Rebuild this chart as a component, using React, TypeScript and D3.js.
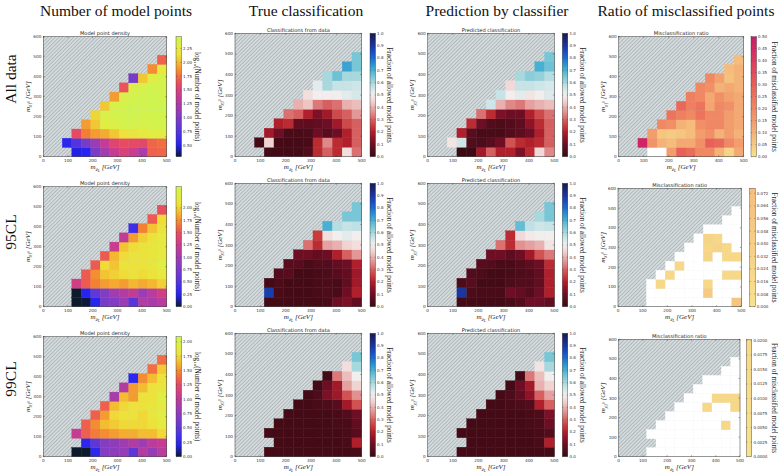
import React from "react";
import * as d3 from "d3";

const N = null;
type Grid = (number | null)[][];

// ---------------- data (rows from lowest m_chi bin upward, 13 x-bins each) ----------------
const densityAll: Grid = [
  [N, N, N, 0.5, 0.52, 0.97, 1.2, 1.4, 1.5, 1.42, 1.25, 1.7, 1.72],
  [N, N, 0.55, 0.75, 0.95, 1.15, 1.38, 1.55, 1.62, 1.6, 1.58, 1.72, 1.75],
  [N, N, N, 1.6, 1.8, 1.9, 1.95, 2.05, 2.15, 2.2, 2.25, 2.3, 2.3],
  [N, N, N, N, 1.9, 2.05, 2.3, 2.35, 2.4, 2.4, 2.38, 2.4, 2.42],
  [N, N, N, N, N, 2.1, 2.35, 2.4, 2.42, 2.44, 2.4, 2.42, 2.4],
  [N, N, N, N, N, N, 2.05, 2.38, 2.4, 2.44, 2.42, 2.44, 2.45],
  [N, N, N, N, N, N, N, 1.9, 2.35, 2.4, 2.42, 2.44, 2.4],
  [N, N, N, N, N, N, N, N, 1.65, 2.35, 2.38, 2.42, 2.4],
  [N, N, N, N, N, N, N, N, N, 0.95, 2.05, 2.3, 2.38],
  [N, N, N, N, N, N, N, N, N, N, N, 1.85, 2.25],
  [N, N, N, N, N, N, N, N, N, N, N, N, 1.7],
];
const density95: Grid = [
  [N, N, N, 0.0, 0.02, 0.25, 0.75, 0.8, 0.95, 0.55, 1.1, 1.05, 1.15],
  [N, N, N, 0.0, 0.25, 0.6, 0.8, 1.0, 1.1, 1.2, 0.95, 1.15, 1.3],
  [N, N, N, 1.3, 1.55, 1.7, 1.8, 1.85, 1.8, 1.9, 1.85, 1.9, 2.0],
  [N, N, N, N, 1.55, 1.75, 1.95, 2.0, 2.05, 2.1, 2.05, 2.1, 2.2],
  [N, N, N, N, N, 1.55, 2.05, 1.95, 2.1, 2.1, 2.1, 2.15, 2.25],
  [N, N, N, N, N, N, 1.55, 1.9, 2.05, 2.1, 2.1, 2.15, 2.2],
  [N, N, N, N, N, N, N, 1.25, 1.95, 2.05, 2.1, 2.15, 2.2],
  [N, N, N, N, N, N, N, N, 1.2, 1.8, 2.0, 2.1, 2.2],
  [N, N, N, N, N, N, N, N, N, 0.4, 1.7, 1.95, 2.1],
  [N, N, N, N, N, N, N, N, N, N, N, 1.55, 2.05],
  [N, N, N, N, N, N, N, N, N, N, N, N, 1.5],
];
const density99: Grid = [
  [N, N, N, 0.0, 0.0, 0.25, 0.7, 0.75, 0.8, 0.5, 0.95, 0.8, 1.0],
  [N, N, N, N, 0.25, 0.5, 0.7, 0.75, 0.85, 0.95, 0.85, 1.0, 1.05],
  [N, N, N, 1.05, 1.35, 1.45, 1.5, 1.55, 1.6, 1.6, 1.65, 1.65, 1.75],
  [N, N, N, N, 1.35, 1.5, 1.65, 1.7, 1.75, 1.75, 1.75, 1.8, 1.9],
  [N, N, N, N, N, 1.35, 1.55, 1.75, 1.8, 1.8, 1.75, 1.85, 1.95],
  [N, N, N, N, N, N, 1.35, 1.65, 1.75, 1.8, 1.8, 1.85, 1.9],
  [N, N, N, N, N, N, N, 0.9, 1.65, 1.55, 1.8, 1.8, 1.95],
  [N, N, N, N, N, N, N, N, 0.95, 1.55, 1.65, 1.8, 1.85],
  [N, N, N, N, N, N, N, N, N, 0.25, 1.5, 1.65, 1.8],
  [N, N, N, N, N, N, N, N, N, N, N, 1.4, 1.7],
  [N, N, N, N, N, N, N, N, N, N, N, N, 1.4],
];

const trueAll: Grid = [
  [N, N, N, 0.02, 0.02, 0.02, 0.02, 0.05, 0.22, 0.3, 0.22, 0.47, 0.32],
  [N, N, 0.02, 0.45, 0.02, 0.02, 0.02, 0.03, 0.22, 0.35, 0.22, 0.2, 0.3],
  [N, N, N, 0.18, 0.1, 0.03, 0.03, 0.04, 0.1, 0.06, 0.1, 0.2, 0.3],
  [N, N, N, N, 0.2, 0.22, 0.08, 0.07, 0.08, 0.1, 0.18, 0.27, 0.3],
  [N, N, N, N, N, 0.32, 0.3, 0.2, 0.12, 0.18, 0.27, 0.3, 0.37],
  [N, N, N, N, N, N, 0.4, 0.43, 0.33, 0.3, 0.32, 0.4, 0.42],
  [N, N, N, N, N, N, N, 0.47, 0.5, 0.5, 0.5, 0.52, 0.54],
  [N, N, N, N, N, N, N, N, 0.52, 0.6, 0.56, 0.56, 0.55],
  [N, N, N, N, N, N, N, N, N, 0.6, 0.66, 0.6, 0.6],
  [N, N, N, N, N, N, N, N, N, N, N, 0.72, 0.65],
  [N, N, N, N, N, N, N, N, N, N, N, N, 0.65],
];
const predAll: Grid = [
  [N, N, N, 0.0, 0.0, 0.18, 0.3, 0.2, 0.2, 0.12, 0.22, 0.46, 0.35],
  [N, N, 0.48, 0.55, 0.05, 0.04, 0.06, 0.1, 0.28, 0.22, 0.2, 0.22, 0.3],
  [N, N, N, 0.2, 0.06, 0.03, 0.03, 0.03, 0.05, 0.07, 0.1, 0.2, 0.3],
  [N, N, N, N, 0.22, 0.1, 0.05, 0.04, 0.05, 0.07, 0.15, 0.22, 0.3],
  [N, N, N, N, N, 0.32, 0.22, 0.12, 0.1, 0.1, 0.2, 0.27, 0.32],
  [N, N, N, N, N, N, 0.55, 0.4, 0.35, 0.33, 0.38, 0.4, 0.42],
  [N, N, N, N, N, N, N, 0.56, 0.5, 0.52, 0.48, 0.5, 0.53],
  [N, N, N, N, N, N, N, N, 0.46, 0.56, 0.56, 0.55, 0.54],
  [N, N, N, N, N, N, N, N, N, 0.6, 0.63, 0.62, 0.58],
  [N, N, N, N, N, N, N, N, N, N, N, 0.7, 0.66],
  [N, N, N, N, N, N, N, N, N, N, N, N, 0.65],
];
const true95: Grid = [
  [N, N, N, 0.02, 0.02, 0.02, 0.02, 0.02, 0.02, 0.03, 0.1, 0.12, 0.08],
  [N, N, N, 0.88, 0.03, 0.02, 0.02, 0.02, 0.03, 0.04, 0.03, 0.1, 0.2],
  [N, N, N, 0.02, 0.04, 0.02, 0.02, 0.02, 0.03, 0.04, 0.03, 0.08, 0.18],
  [N, N, N, N, 0.05, 0.06, 0.02, 0.02, 0.03, 0.04, 0.06, 0.08, 0.17],
  [N, N, N, N, N, 0.06, 0.06, 0.03, 0.05, 0.05, 0.08, 0.1, 0.2],
  [N, N, N, N, N, N, 0.1, 0.1, 0.08, 0.1, 0.2, 0.3, 0.37],
  [N, N, N, N, N, N, N, 0.32, 0.22, 0.38, 0.4, 0.45, 0.47],
  [N, N, N, N, N, N, N, N, 0.25, 0.47, 0.5, 0.52, 0.5],
  [N, N, N, N, N, N, N, N, N, 0.7, 0.58, 0.56, 0.57],
  [N, N, N, N, N, N, N, N, N, N, N, 0.65, 0.65],
  [N, N, N, N, N, N, N, N, N, N, N, N, 0.65],
];
const pred95: Grid = [
  [N, N, N, 0.02, 0.02, 0.02, 0.02, 0.02, 0.03, 0.05, 0.1, 0.1, 0.08],
  [N, N, N, 0.9, 0.04, 0.03, 0.03, 0.03, 0.1, 0.08, 0.05, 0.1, 0.2],
  [N, N, N, 0.04, 0.06, 0.02, 0.02, 0.02, 0.04, 0.05, 0.05, 0.08, 0.2],
  [N, N, N, N, 0.05, 0.04, 0.02, 0.02, 0.03, 0.04, 0.05, 0.08, 0.2],
  [N, N, N, N, N, 0.06, 0.05, 0.03, 0.03, 0.05, 0.07, 0.1, 0.22],
  [N, N, N, N, N, N, 0.1, 0.1, 0.07, 0.1, 0.18, 0.28, 0.33],
  [N, N, N, N, N, N, N, 0.32, 0.22, 0.36, 0.38, 0.4, 0.48],
  [N, N, N, N, N, N, N, N, 0.22, 0.46, 0.49, 0.5, 0.5],
  [N, N, N, N, N, N, N, N, N, 0.67, 0.57, 0.55, 0.56],
  [N, N, N, N, N, N, N, N, N, N, N, 0.6, 0.65],
  [N, N, N, N, N, N, N, N, N, N, N, N, 0.65],
];
const true99: Grid = [
  [N, N, N, 0.02, 0.02, 0.02, 0.02, 0.02, 0.02, 0.02, 0.02, 0.02, 0.03],
  [N, N, N, N, 0.02, 0.02, 0.02, 0.02, 0.02, 0.02, 0.02, 0.03, 0.2],
  [N, N, N, 0.02, 0.02, 0.02, 0.02, 0.02, 0.02, 0.02, 0.02, 0.03, 0.06],
  [N, N, N, N, 0.02, 0.02, 0.02, 0.02, 0.02, 0.02, 0.03, 0.03, 0.08],
  [N, N, N, N, N, 0.02, 0.02, 0.02, 0.02, 0.02, 0.03, 0.05, 0.1],
  [N, N, N, N, N, N, 0.02, 0.02, 0.03, 0.04, 0.06, 0.18, 0.28],
  [N, N, N, N, N, N, N, 0.02, 0.04, 0.12, 0.17, 0.28, 0.36],
  [N, N, N, N, N, N, N, N, 0.02, 0.1, 0.18, 0.38, 0.45],
  [N, N, N, N, N, N, N, N, N, 0.02, 0.33, 0.42, 0.5],
  [N, N, N, N, N, N, N, N, N, N, N, 0.47, 0.6],
  [N, N, N, N, N, N, N, N, N, N, N, N, 0.65],
];
const pred99: Grid = [
  [N, N, N, 0.02, 0.02, 0.02, 0.02, 0.02, 0.02, 0.02, 0.02, 0.02, 0.02],
  [N, N, N, N, 0.02, 0.02, 0.02, 0.02, 0.02, 0.02, 0.02, 0.03, 0.2],
  [N, N, N, 0.02, 0.02, 0.02, 0.02, 0.02, 0.02, 0.02, 0.02, 0.03, 0.05],
  [N, N, N, N, 0.02, 0.02, 0.02, 0.02, 0.02, 0.02, 0.03, 0.04, 0.1],
  [N, N, N, N, N, 0.02, 0.02, 0.02, 0.02, 0.02, 0.03, 0.04, 0.12],
  [N, N, N, N, N, N, 0.02, 0.02, 0.03, 0.04, 0.05, 0.2, 0.3],
  [N, N, N, N, N, N, N, 0.02, 0.04, 0.08, 0.15, 0.3, 0.38],
  [N, N, N, N, N, N, N, N, 0.02, 0.1, 0.18, 0.4, 0.45],
  [N, N, N, N, N, N, N, N, N, 0.02, 0.33, 0.42, 0.5],
  [N, N, N, N, N, N, N, N, N, N, N, 0.48, 0.6],
  [N, N, N, N, N, N, N, N, N, N, N, N, 0.65],
];

const misAll: Grid = [
  [N, N, N, 0, 0, 0.15, 0.3, 0.27, 0.2, 0.2, 0.1, 0.03, 0.12],
  [N, N, 0.47, 0.17, 0.1, 0.08, 0.12, 0.12, 0.18, 0.3, 0.28, 0.2, 0.15],
  [N, N, N, 0.15, 0.06, 0.05, 0.06, 0.08, 0.15, 0.18, 0.1, 0.15, 0.1],
  [N, N, N, N, 0.2, 0.18, 0.1, 0.08, 0.18, 0.2, 0.2, 0.15, 0.12],
  [N, N, N, N, N, 0.25, 0.22, 0.2, 0.25, 0.2, 0.2, 0.15, 0.12],
  [N, N, N, N, N, N, 0.28, 0.22, 0.25, 0.13, 0.2, 0.18, 0.12],
  [N, N, N, N, N, N, N, 0.22, 0.2, 0.12, 0.18, 0.14, 0.12],
  [N, N, N, N, N, N, N, N, 0.2, 0.18, 0.1, 0.12, 0.1],
  [N, N, N, N, N, N, N, N, N, 0.2, 0.14, 0.07, 0.1],
  [N, N, N, N, N, N, N, N, N, N, N, 0.08, 0.1],
  [N, N, N, N, N, N, N, N, N, N, N, N, 0.08],
];
const mis95: Grid = [
  [N, N, N, 0, 0, 0, 0, 0, 0, 0, 0, 0, 0.06],
  [N, N, N, 0, 0, 0, 0, 0, 0, 0.05, 0, 0, 0],
  [N, N, N, 0, 0.02, 0, 0, 0, 0, 0.02, 0, 0, 0],
  [N, N, N, N, 0, 0.02, 0, 0, 0, 0, 0, 0.02, 0.02],
  [N, N, N, N, N, 0, 0.02, 0, 0, 0, 0, 0, 0],
  [N, N, N, N, N, N, 0, 0, 0, 0.03, 0, 0.02, 0.02],
  [N, N, N, N, N, N, N, 0, 0, 0.025, 0.03, 0.02, 0],
  [N, N, N, N, N, N, N, N, 0, 0.03, 0.02, 0, 0],
  [N, N, N, N, N, N, N, N, N, 0, 0, 0, 0],
  [N, N, N, N, N, N, N, N, N, N, N, 0, 0],
  [N, N, N, N, N, N, N, N, N, N, N, N, 0],
];
const mis99: Grid = [
  [N, N, N, 0, 0, 0, 0, 0, 0, 0, 0, 0, 0],
  [N, N, N, N, 0, 0, 0, 0, 0, 0, 0, 0, 0],
  [N, N, N, 0, 0, 0, 0, 0, 0, 0, 0, 0, 0],
  [N, N, N, N, 0, 0, 0, 0, 0, 0, 0, 0.02, 0],
  [N, N, N, N, N, 0, 0, 0, 0, 0, 0, 0, 0],
  [N, N, N, N, N, N, 0, 0, 0, 0.02, 0, 0, 0.02],
  [N, N, N, N, N, N, N, 0, 0, 0, 0.02, 0.02, 0.02],
  [N, N, N, N, N, N, N, N, 0, 0, 0, 0, 0],
  [N, N, N, N, N, N, N, N, N, 0, 0, 0, 0],
  [N, N, N, N, N, N, N, N, N, N, N, 0, 0],
  [N, N, N, N, N, N, N, N, N, N, N, N, 0],
];

// ---------------- labels & ticks ----------------
const COL_TITLES = ["Number of model points", "True classification", "Prediction by classifier", "Ratio of misclassified points"];
const ROW_LABELS = ["All data", "95CL", "99CL"];
const AX_TITLES = ["Model point density", "Classifications from data", "Predicted classification", "Misclassification ratio"];
const CB_LABELS = ["log\u2081\u2080(Number of model points)", "Fraction of allowed model points", "Fraction of allowed model points", "Fraction of misclassified model points"];
const X_TICKS = [0, 100, 200, 300, 400, 500];
const Y_TICKS = [0, 100, 200, 300, 400, 500, 600];
const DENS_TICKS_ALL = [0.5, 0.75, 1.0, 1.25, 1.5, 1.75, 2.0, 2.25];
const DENS_TICKS_CL = [0, 0.25, 0.5, 0.75, 1.0, 1.25, 1.5, 1.75, 2.0];
const CLASS_TICKS = [0, 0.1, 0.2, 0.3, 0.4, 0.5, 0.6, 0.7, 0.8, 0.9, 1.0];
const MIS_TICKS_ALL = [0, 0.05, 0.1, 0.15, 0.2, 0.25, 0.3, 0.35, 0.4, 0.45, 0.5];
const MIS_TICKS_95 = [0, 0.008, 0.016, 0.024, 0.032, 0.04, 0.048, 0.056, 0.064, 0.072];
const MIS_TICKS_99 = [0, 0.0025, 0.005, 0.0075, 0.01, 0.0125, 0.015, 0.0175, 0.02];

const X_MAX = 500, Y_MAX = 600, NBINS = 13;

// ---------------- colour maps ----------------
const densCmap = d3.scaleLinear<string>()
  .domain([0, 0.04, 0.1, 0.2, 0.31, 0.41, 0.51, 0.61, 0.7, 0.78, 0.85, 0.92, 1])
  .range(["#0c1a2c", "#141c80", "#2424f0", "#5034e0", "#7a3cc8", "#a03cb0", "#c83c90", "#e84a60", "#f48034", "#f4b630", "#eee03a", "#e2ec42", "#cdf552"])
  .clamp(true);
const classCmap = d3.scaleLinear<string>()
  .domain([0, 0.05, 0.1, 0.15, 0.2, 0.25, 0.3, 0.35, 0.4, 0.45, 0.5, 0.55, 0.6, 0.65, 0.7, 0.75, 0.8, 0.85, 0.9, 0.95, 1])
  .range(["#3b0a12", "#520c1c", "#6e0e24", "#8e1228", "#b0202c", "#c83c3c", "#d66060", "#e08888", "#e8b0ae", "#f0d4d2", "#f2eeee", "#cfe6e8", "#a6d8de", "#78c6d6", "#48b0d2", "#2a90d0", "#1c6cd0", "#1a4cc0", "#1a36a0", "#1a2678", "#141c50"])
  .clamp(true);
const misCmap = d3.scaleLinear<string>()
  .domain([0, 0.05, 0.1, 0.15, 0.2, 0.25, 0.3, 0.35, 0.4, 0.45, 0.5])
  .range(["#f7e28e", "#f6ca82", "#f5b276", "#f39c6c", "#f08864", "#ec745c", "#e86058", "#e34c5a", "#dc3a60", "#d42a64", "#c81e68"])
  .clamp(true);

type Kind = "dens" | "class" | "mis";
interface Spec { grid: Grid; kind: Kind; domain: [number, number]; ticks: number[]; fmt: string; }

const SPECS: Spec[][] = [
  [
    { grid: densityAll, kind: "dens", domain: [0.3, 2.46], ticks: DENS_TICKS_ALL, fmt: ".2f" },
    { grid: trueAll, kind: "class", domain: [0, 1], ticks: CLASS_TICKS, fmt: ".1f" },
    { grid: predAll, kind: "class", domain: [0, 1], ticks: CLASS_TICKS, fmt: ".1f" },
    { grid: misAll, kind: "mis", domain: [0, 0.5], ticks: MIS_TICKS_ALL, fmt: ".2f" },
  ],
  [
    { grid: density95, kind: "dens", domain: [0, 2.43], ticks: DENS_TICKS_CL, fmt: ".2f" },
    { grid: true95, kind: "class", domain: [0, 1], ticks: CLASS_TICKS, fmt: ".1f" },
    { grid: pred95, kind: "class", domain: [0, 1], ticks: CLASS_TICKS, fmt: ".1f" },
    { grid: mis95, kind: "mis", domain: [0, 0.0752], ticks: MIS_TICKS_95, fmt: ".3f" },
  ],
  [
    { grid: density99, kind: "dens", domain: [0, 2.09], ticks: DENS_TICKS_CL, fmt: ".2f" },
    { grid: true99, kind: "class", domain: [0, 1], ticks: CLASS_TICKS, fmt: ".1f" },
    { grid: pred99, kind: "class", domain: [0, 1], ticks: CLASS_TICKS, fmt: ".1f" },
    { grid: mis99, kind: "mis", domain: [0, 0.0202], ticks: MIS_TICKS_99, fmt: ".4f" },
  ],
];

// ---------------- layout ----------------
interface Box { l: number; r: number; t: number; b: number; cb: number; }
const BOXES: Box[][] = [
  [{ l: 43.3, r: 166.7, t: 36.7, b: 156.7, cb: 176 }, { l: 235, r: 361.7, t: 33.3, b: 156.7, cb: 370 }, { l: 427.7, r: 554.3, t: 33.3, b: 156.7, cb: 562.3 }, { l: 618.7, r: 743.7, t: 36.7, b: 156.7, cb: 751 }],
  [{ l: 43.3, r: 166.7, t: 186.7, b: 306.7, cb: 176 }, { l: 235, r: 361.7, t: 183.3, b: 306.7, cb: 370 }, { l: 427.7, r: 554.3, t: 183.3, b: 306.7, cb: 562.3 }, { l: 618, r: 741.3, t: 188.3, b: 306.7, cb: 749.7 }],
  [{ l: 43.3, r: 166.7, t: 336.7, b: 456.7, cb: 176 }, { l: 235, r: 361.7, t: 333.3, b: 456.7, cb: 370 }, { l: 427.7, r: 554.3, t: 333.3, b: 456.7, cb: 562.3 }, { l: 618.7, r: 740, t: 339.3, b: 456.7, cb: 746.3 }],
];
const CB_W = 5.5;
const CB_LABEL_X = [197, 389, 582, 774];
const COL_TITLE_X = [116, 306, 497, 686];
const ROW_LABEL_Y = [79, 232, 379];

const SERIF = "'Liberation Serif', 'DejaVu Serif', serif";
const SANS = "'DejaVu Sans', sans-serif";

function colorFor(spec: Spec, v: number): string {
  if (spec.kind === "mis") return v === 0 ? "#ffffff" : misCmap(v);
  const t = (v - spec.domain[0]) / (spec.domain[1] - spec.domain[0]);
  return spec.kind === "dens" ? densCmap(t) : classCmap(t);
}
function cbColor(spec: Spec, v: number): string {
  if (spec.kind === "mis") return misCmap(v);
  return colorFor(spec, v);
}

function Panel({ spec, box, ri, ci }: { spec: Spec; box: Box; ri: number; ci: number }) {
  const xs = d3.scaleLinear().domain([0, X_MAX]).range([box.l, box.r]);
  const ys = d3.scaleLinear().domain([0, Y_MAX]).range([box.b, box.t]);
  const bx = d3.range(NBINS + 1).map((i) => (i * X_MAX) / NBINS);
  const by = d3.range(NBINS + 1).map((i) => (i * Y_MAX) / NBINS);
  const cbs = d3.scaleLinear().domain(spec.domain).range([box.b, box.t]);
  const gid = `cbg-${ri}-${ci}`;
  const fmt = d3.format(spec.fmt);
  const cells: JSX.Element[] = [];
  spec.grid.forEach((row, r) =>
    row.forEach((v, c) => {
      if (v === null || v === undefined) return;
      const x0 = xs(bx[c]), x1 = xs(bx[c + 1]);
      const y0 = ys(by[r + 1]), y1 = ys(by[r]);
      const col = colorFor(spec, v);
      cells.push(<rect key={`${r}-${c}`} x={x0} y={y0} width={x1 - x0} height={y1 - y0} fill={col} stroke={col} strokeWidth={0.35} />);
    })
  );
  const gradStops = d3.range(41).map((i) => {
    const v = spec.domain[0] + (i / 40) * (spec.domain[1] - spec.domain[0]);
    return <stop key={i} offset={`${(i / 40) * 100}%`} stopColor={cbColor(spec, v)} />;
  });
  const cx = (box.l + box.r) / 2;
  const cy = (box.t + box.b) / 2;
  return (
    <g>
      <defs>
        <linearGradient id={gid} x1="0" y1="1" x2="0" y2="0">{gradStops}</linearGradient>
      </defs>
      <rect x={box.l} y={box.t} width={box.r - box.l} height={box.b - box.t} fill="url(#hatch)" />
      {cells}
      <rect x={box.l} y={box.t} width={box.r - box.l} height={box.b - box.t} fill="none" stroke="#333" strokeWidth={0.5} />
      {X_TICKS.map((t) => (
        <g key={`xt${t}`}>
          <line x1={xs(t)} x2={xs(t)} y1={box.b} y2={box.b - 1.5} stroke="#333" strokeWidth={0.4} />
          <line x1={xs(t)} x2={xs(t)} y1={box.t} y2={box.t + 1.5} stroke="#333" strokeWidth={0.4} />
          <text x={xs(t)} y={box.b + 5.5} fontSize={4.2} fontFamily={SANS} fill="#333" textAnchor="middle">{t}</text>
        </g>
      ))}
      {Y_TICKS.map((t) => (
        <g key={`yt${t}`}>
          <line x1={box.l} x2={box.l + 1.5} y1={ys(t)} y2={ys(t)} stroke="#333" strokeWidth={0.4} />
          <line x1={box.r} x2={box.r - 1.5} y1={ys(t)} y2={ys(t)} stroke="#333" strokeWidth={0.4} />
          <text x={box.l - 2} y={ys(t) + 1.5} fontSize={4.2} fontFamily={SANS} fill="#333" textAnchor="end">{t}</text>
        </g>
      ))}
      <text x={cx} y={box.t - 1.8} fontSize={5.1} fontFamily={SANS} fill="#222" textAnchor="middle">{AX_TITLES[ci]}</text>
      <text x={cx} y={box.b + 12.5} fontSize={7} fontFamily={SERIF} fill="#222" textAnchor="middle" fontStyle="italic">
        m<tspan fontSize={5} dy={1.6}>ẽ</tspan><tspan fontSize={3.8} dy={0.8}>L</tspan><tspan dy={-2.4}> [GeV]</tspan>
      </text>
      <text transform={`translate(${box.l - 13.5},${cy}) rotate(-90)`} fontSize={7} fontFamily={SERIF} fill="#222" textAnchor="middle" fontStyle="italic">
        m<tspan fontSize={5} dy={1.6}>χ̃</tspan><tspan fontSize={3.8} dy={0.8}>1</tspan><tspan fontSize={3.8} dy={-2.6}>0</tspan><tspan dy={0.2}> [GeV]</tspan>
      </text>
      <rect x={box.cb} y={box.t} width={CB_W} height={box.b - box.t} fill={`url(#${gid})`} stroke="#333" strokeWidth={0.4} />
      {spec.ticks.map((t) => (
        <g key={`ct${t}`}>
          <line x1={box.cb} x2={box.cb + 1.2} y1={cbs(t)} y2={cbs(t)} stroke="#333" strokeWidth={0.35} />
          <line x1={box.cb + CB_W} x2={box.cb + CB_W - 1.2} y1={cbs(t)} y2={cbs(t)} stroke="#333" strokeWidth={0.35} />
          <text x={box.cb + CB_W + 1.6} y={cbs(t) + 1.4} fontSize={4} fontFamily={SANS} fill="#333">{fmt(t)}</text>
        </g>
      ))}
      <text transform={`translate(${CB_LABEL_X[ci] - 2.5},${cy}) rotate(90)`} fontSize={7.2} fontFamily={SERIF} fill="#222" textAnchor="middle">{CB_LABELS[ci]}</text>
    </g>
  );
}

export default function App() {
  return (
    <svg width={778} height={472} style={{ position: "absolute", left: 0, top: 0, background: "#fff" }}>
      <defs>
        <pattern id="hatch" width="2.6" height="2.6" patternUnits="userSpaceOnUse" patternTransform="rotate(45)">
          <rect width="2.6" height="2.6" fill="#d5dbdd" />
          <line x1="0" y1="0" x2="0" y2="2.6" stroke="#94a0a4" strokeWidth="1.1" />
        </pattern>
      </defs>
      <rect width={778} height={472} fill="#fff" />
      {COL_TITLES.map((t, i) => (
        <text key={t} x={COL_TITLE_X[i]} y={16} fontSize={15.5} fontFamily={SERIF} fill="#111" textAnchor="middle">{t}</text>
      ))}
      {ROW_LABELS.map((t, i) => (
        <text key={t} transform={`translate(15.5,${ROW_LABEL_Y[i]}) rotate(-90)`} fontSize={15.5} fontFamily={SERIF} fill="#111" textAnchor="middle">{t}</text>
      ))}
      {SPECS.map((row, ri) => row.map((spec, ci) => <Panel key={`${ri}-${ci}`} spec={spec} box={BOXES[ri][ci]} ri={ri} ci={ci} />))}
    </svg>
  );
}
